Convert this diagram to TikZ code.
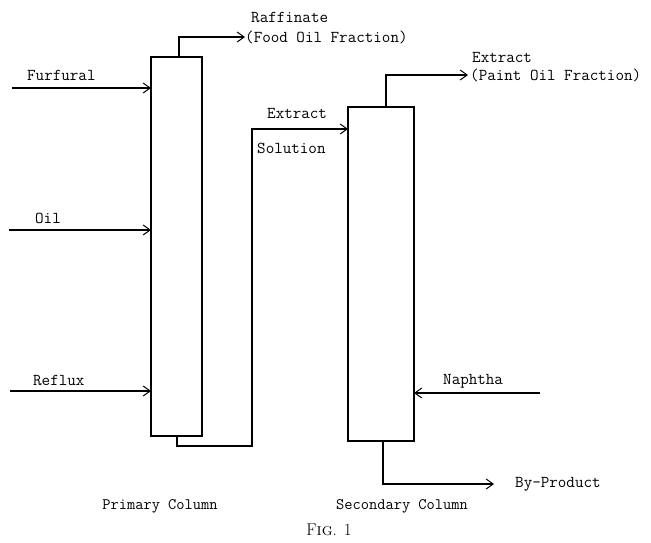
\documentclass[tikz,border=0pt]{standalone}
\usetikzlibrary{arrows.meta}
\begin{document}
\begin{tikzpicture}[x=1pt,y=-1pt,
  pipe/.style={line width=1.1pt,-{Straight Barb[length=7pt,width=10pt,line width=1pt]}},
  column/.style={draw,line width=1.1pt,rectangle,inner sep=0pt},
  lbl/.style={font=\fontsize{16.6}{18}\ttfamily,anchor=west,inner sep=0pt},
  captext/.style={font=\fontsize{16}{18}\ttfamily,inner sep=0pt}]
\useasboundingbox (0,0) rectangle (651,542);
% columns
\node[column,minimum width=51pt,minimum height=379pt] (prim) at (176.5,246.5) {};
\node[column,minimum width=66pt,minimum height=334pt] (sec) at (381,274) {};
% coordinates
\coordinate (raftop) at (179,57);
\coordinate (rafc) at (179,37);
\coordinate (rafend) at (245,37);
\coordinate (furs) at (12,88);
\coordinate (furin) at (151,88);
\coordinate (oils) at (9,230);
\coordinate (oilin) at (151,230);
\coordinate (refs) at (10,391);
\coordinate (refin) at (151,391);
\coordinate (pb) at (177,436);
\coordinate (pb1) at (177,446);
\coordinate (pb2) at (252,446);
\coordinate (pb3) at (252,129);
\coordinate (secin) at (348,129);
\coordinate (extop) at (386,107);
\coordinate (ext1) at (386,75);
\coordinate (extend) at (468,75);
\coordinate (naps) at (540,393);
\coordinate (napin) at (414,393);
\coordinate (bpb) at (383,441);
\coordinate (bp1) at (383,484);
\coordinate (bpend) at (494,484);
% connectors
\draw[pipe] (raftop) -- (rafc) -- (rafend);
\draw[pipe] (furs) -- (furin);
\draw[pipe] (oils) -- (oilin);
\draw[pipe] (refs) -- (refin);
\draw[pipe] (pb) -- (pb1) -- (pb2) -- (pb3) -- (secin);
\draw[pipe] (extop) -- (ext1) -- (extend);
\draw[pipe] (naps) -- (napin);
\draw[pipe] (bpb) -- (bp1) -- (bpend);
% labels
\node[lbl] (t1) at (251,17) {Raffinate};
\node[lbl] (t2) at (245,37) {(Food Oil Fraction)};
\node[lbl] (t3) at (27,75) {Furfural};
\node[lbl] (t4) at (35,218) {Oil};
\node[lbl] (t5) at (33,380) {Reflux};
\node[lbl] (t6) at (267,113) {Extract};
\node[lbl] (t7) at (257,148) {Solution};
\node[lbl] (t8) at (472,57) {Extract};
\node[lbl] (t9) at (470,75) {(Paint Oil Fraction)};
\node[lbl] (t10) at (443,381) {Naphtha};
\node[lbl] (t11) at (515,484) {By-Product};
\node[captext] (c1) at (160,506) {Primary Column};
\node[captext] (c2) at (402,506) {Secondary Column};
\node[font=\fontsize{17}{19}\selectfont,inner sep=0pt] (fig) at (329,530) {F\textsc{ig}. 1};
\end{tikzpicture}
\end{document}
